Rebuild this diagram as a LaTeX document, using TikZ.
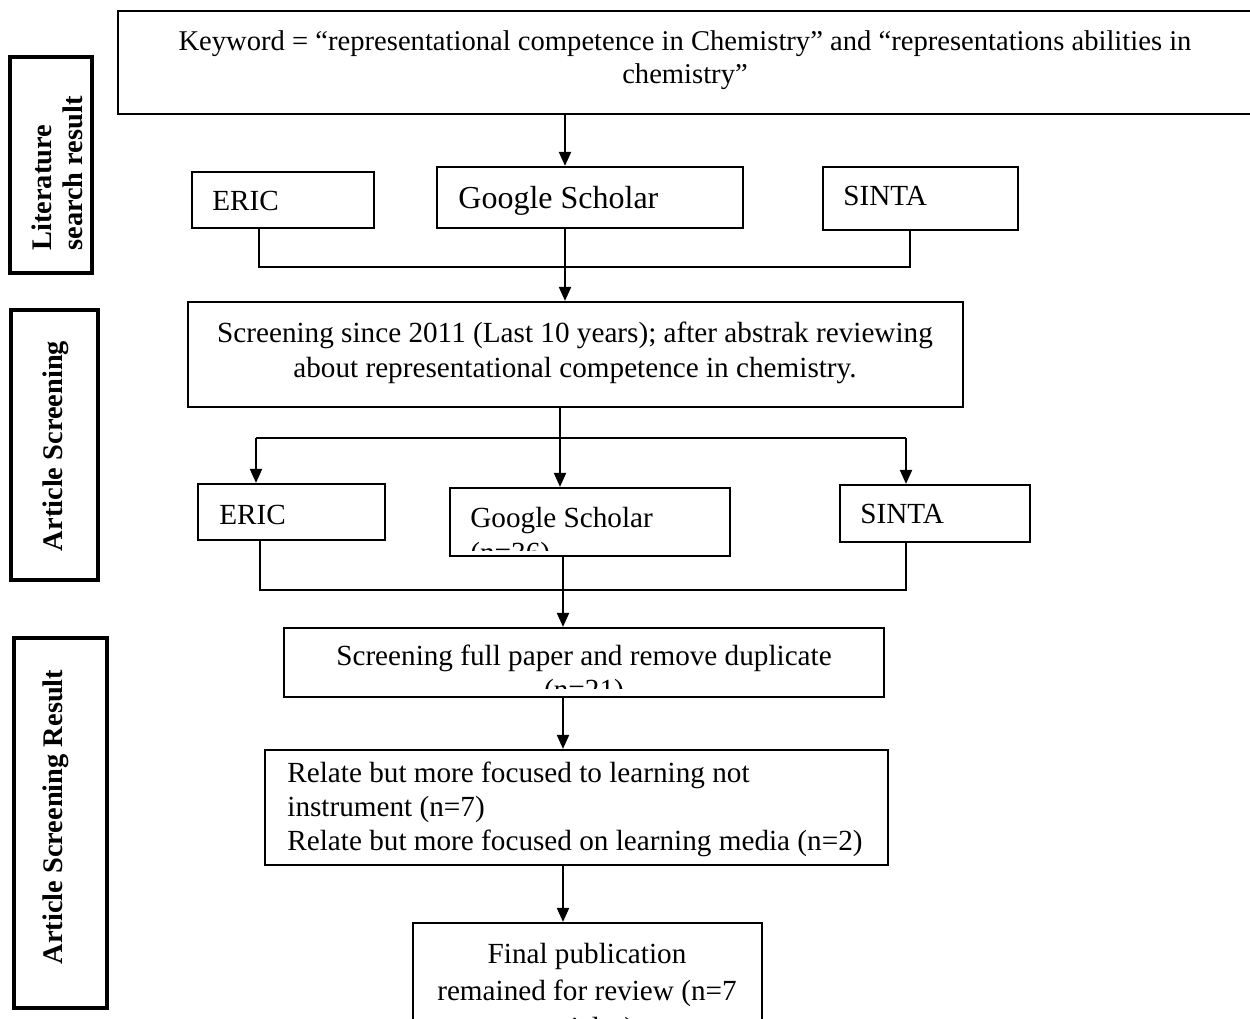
\documentclass[tikz,border=0pt]{standalone}
\usepackage{fontspec}
\setmainfont{Liberation Serif}
\usetikzlibrary{arrows.meta,fit}
\tikzset{
  stage/.style={draw,line width=1.1pt,inner sep=0pt},
  sidestage/.style={draw,line width=2pt,inner sep=0pt},
  txt/.style={inner sep=0pt,font=\fontsize{14.6}{#1}\selectfont},
  txt/.default=17.5,
  sidetxt/.style={inner sep=0pt,rotate=90,align=left,font=\fontsize{14.2}{15.5}\selectfont\bfseries},
  wire/.style={line width=1pt},
  flow/.style={wire,-{Triangle[length=7pt,width=6pt]}}
}
\begin{document}
\begin{tikzpicture}[x=0.5pt,y=-0.5pt]
\clip (0,0) rectangle (1250,1019);
\fill[white] (0,0) rectangle (1250,1019);

\node[sidestage,fit={(10,57) (92,273)}] (side1) {};
\node[sidestage,fit={(11,310) (98,580)}] (side2) {};
\node[sidestage,fit={(14,638) (107,1008)}] (side3) {};
\begin{scope}
\clip (10,57) rectangle (82,273);
\node[sidetxt,anchor=base west] (side1txt) at (83,251) {Literature\\search result};
\end{scope}
\node[sidetxt,anchor=base] (side2txt) at (62,446) {Article Screening};
\node[sidetxt,anchor=base] (side3txt) at (62,817) {Article Screening Result};

\node[stage,fit={(118,11) (1262,114)}] (kw) {};
\node[inner sep=0pt,font=\fontsize{14.3}{16.5}\selectfont,anchor=base,align=center] (kwtxt) at (685,83)
  {Keyword = “representational competence in Chemistry” and “representations abilities in\\chemistry”};

\node[stage,fit={(192,172) (374,228)}] (eric1) {};
\node[stage,fit={(437,167) (743,228)}] (gs1) {};
\node[stage,fit={(823,167) (1018,230)}] (sinta1) {};
\node[txt,anchor=base west] (eric1txt) at (212,210) {ERIC};
\node[inner sep=0pt,font=\fontsize{16}{19}\selectfont,anchor=base west] (gs1txt) at (458,208) {Google Scholar};
\node[txt,anchor=base west] (sinta1txt) at (843,205) {SINTA};

\node[stage,fit={(188,302) (963,407)}] (scr1) {};
\node[txt=17.5,anchor=base,align=center] (scr1txt) at (575,377)
  {Screening since 2011 (Last 10 years); after abstrak reviewing\\about representational competence in chemistry.};

\node[stage,fit={(198,484) (385,540)}] (eric2) {};
\node[stage,fit={(450,488) (730,556)}] (gs2) {};
\node[stage,fit={(840,485) (1030,542)}] (sinta2) {};
\node[txt,anchor=base west] (eric2txt) at (219,524) {ERIC};
\begin{scope}
\clip (450,488) rectangle (730,550);
\node[txt=17.5,anchor=base west,align=left] (gs2txt) at (470,562) {Google Scholar\\(n=36)};
\end{scope}
\node[txt,anchor=base west] (sinta2txt) at (860,523) {SINTA};

\node[stage,fit={(284,628) (884,697)}] (full) {};
\begin{scope}
\clip (284,628) rectangle (884,688);
\node[txt=17,anchor=base,align=center] (fulltxt) at (584,699) {Screening full paper and remove duplicate\\(n=21)};
\end{scope}

\node[stage,fit={(265,750) (888,865)}] (relate) {};
\begin{scope}
\clip (265,750) rectangle (888,856);
\node[txt=17,anchor=base west,align=left] (relatetxt) at (287,850)
  {Relate but more focused to learning not\\instrument (n=7)\\Relate but more focused on learning media (n=2)};
\end{scope}

\node[stage,fit={(413,923) (762,1040)}] (final) {};
\node[txt=18.5,anchor=base,align=center] (finaltxt) at (587,1037)
  {Final publication\\remained for review (n=7\\articles)};

\coordinate (lanek) at (565,0);
\coordinate (laneb) at (560,0);
\coordinate (lanel) at (563,0);
\coordinate (e1j) at (259,267);
\coordinate (s1j) at (910,267);
\coordinate (e2s) at (256,438);
\coordinate (s2s) at (906,438);
\coordinate (e2j) at (260,590);
\coordinate (s2j) at (906,590);

\draw[flow] (kw.south -| lanek) -- (gs1.north -| lanek);
\draw[wire] (eric1.south -| e1j) -- (e1j) -- (s1j) -- (sinta1.south -| s1j);
\draw[flow] (gs1.south -| lanek) -- (scr1.north -| lanek);
\draw[flow] (scr1.south -| laneb) -- (gs2.north -| laneb);
\draw[wire] (e2s) -- (s2s);
\foreach \p/\b in {e2s/eric2,s2s/sinta2}{
  \draw[flow] (\p) -- (\b.north -| \p);
}
\draw[wire] (eric2.south -| e2j) -- (e2j) -- (s2j) -- (sinta2.south -| s2j);
\draw[flow] (gs2.south -| lanel) -- (full.north -| lanel);
\draw[flow] (full.south -| lanel) -- (relate.north -| lanel);
\draw[flow] (relate.south -| lanel) -- (final.north -| lanel);
\end{tikzpicture}
\end{document}
